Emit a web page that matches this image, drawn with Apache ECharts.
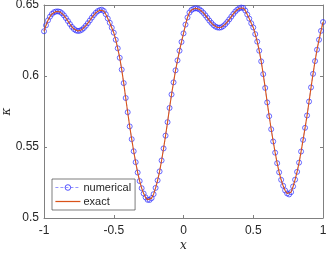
<!DOCTYPE html>
<html>
<head>
<meta charset="utf-8">
<script src="https://cdn.jsdelivr.net/npm/echarts@6/dist/echarts.min.js"></script>
<style>
html,body{margin:0;padding:0;background:#fff;}
#chart{width:327px;height:253px;}
</style>
</head>
<body>
<div id="chart"></div>
<script>
// x grid
const xValues = [
 -1, -0.9857, -0.9714, -0.9571, -0.9429, -0.9286, -0.9143,
 -0.9, -0.8857, -0.8714, -0.8571, -0.8429, -0.8286, -0.8143,
 -0.8, -0.7857, -0.7714, -0.7571, -0.7429, -0.7286, -0.7143,
 -0.7, -0.6857, -0.6714, -0.6571, -0.6429, -0.6286, -0.6143,
 -0.6, -0.5857, -0.5714, -0.5571, -0.5429, -0.5286, -0.5143,
 -0.5, -0.4857, -0.4714, -0.4571, -0.4429, -0.4286, -0.4143,
 -0.4, -0.3857, -0.3714, -0.3571, -0.3429, -0.3286, -0.3143,
 -0.3, -0.2857, -0.2714, -0.2571, -0.2429, -0.2286, -0.2143,
 -0.2, -0.1857, -0.1714, -0.1571, -0.1429, -0.1286, -0.1143,
 -0.1, -0.0857, -0.0714, -0.0571, -0.0429, -0.0286, -0.0143,
 0, 0.0143, 0.0286, 0.0429, 0.0571, 0.0714, 0.0857,
 0.1, 0.1143, 0.1286, 0.1429, 0.1571, 0.1714, 0.1857,
 0.2, 0.2143, 0.2286, 0.2429, 0.2571, 0.2714, 0.2857,
 0.3, 0.3143, 0.3286, 0.3429, 0.3571, 0.3714, 0.3857,
 0.4, 0.4143, 0.4286, 0.4429, 0.4571, 0.4714, 0.4857,
 0.5, 0.5143, 0.5286, 0.5429, 0.5571, 0.5714, 0.5857,
 0.6, 0.6143, 0.6286, 0.6429, 0.6571, 0.6714, 0.6857,
 0.7, 0.7143, 0.7286, 0.7429, 0.7571, 0.7714, 0.7857,
 0.8, 0.8143, 0.8286, 0.8429, 0.8571, 0.8714, 0.8857,
 0.9, 0.9143, 0.9286, 0.9429, 0.9571, 0.9714, 0.9857,
 1
];
// numerical kappa values (markers)
const numerical = [
 0.6315, 0.6357, 0.6392, 0.6418, 0.6437, 0.6449, 0.6454,
 0.6455, 0.6452, 0.6442, 0.6427, 0.6408, 0.6387, 0.6366,
 0.6346, 0.6331, 0.6321, 0.6317, 0.6319, 0.6326, 0.6338,
 0.6354, 0.6372, 0.6391, 0.6411, 0.6429, 0.6445, 0.6457,
 0.6464, 0.6467, 0.6458, 0.6435, 0.6405, 0.6375, 0.6340,
 0.6305, 0.6255, 0.6195, 0.6128, 0.6045, 0.5950, 0.5845,
 0.5745, 0.5645, 0.5555, 0.5470, 0.5393, 0.5320, 0.5260,
 0.5210, 0.5172, 0.5145, 0.5128, 0.5127, 0.5140, 0.5168,
 0.5212, 0.5265, 0.5328, 0.5405, 0.5490, 0.5580, 0.5675,
 0.5775, 0.5870, 0.5955, 0.6040, 0.6110, 0.6178, 0.6240,
 0.6300, 0.6362, 0.6412, 0.6447, 0.6465, 0.6473, 0.6477,
 0.6475, 0.6469, 0.6458, 0.6444, 0.6427, 0.6409, 0.6390,
 0.6374, 0.6359, 0.6348, 0.6342, 0.6340, 0.6343, 0.6352,
 0.6365, 0.6381, 0.6399, 0.6418, 0.6437, 0.6454, 0.6467,
 0.6477, 0.6482, 0.6479, 0.6461, 0.6433, 0.6404, 0.6371,
 0.6342, 0.6295, 0.6242, 0.6178, 0.6103, 0.6013, 0.5916,
 0.5814, 0.5717, 0.5625, 0.5539, 0.5460, 0.5386, 0.5322,
 0.5269, 0.5227, 0.5194, 0.5173, 0.5166, 0.5182, 0.5222,
 0.5270, 0.5325, 0.5390, 0.5468, 0.5550, 0.5635, 0.5722,
 0.5820, 0.5920, 0.6015, 0.6105, 0.6185, 0.6255, 0.6318,
 0.6380
];
// exact kappa values (red curve), coinciding with the numerical ones
const exact = numerical.slice();

const xTicks = [-1, -0.5, 0, 0.5, 1];
const yTicks = [0.5, 0.55, 0.6, 0.65];

const seriesNames = ['numerical', 'exact'];
const axisColor = '#808080';
const textColor = '#262626';
const blue = '#2a2aff';
const red = '#D95319';

const chart = echarts.init(document.getElementById('chart'), null, {renderer: 'canvas'});

function pairs(ys){ return xValues.map((x, i) => [x, ys[i]]); }

const baseX = {
  type: 'value', min: xTicks[0], max: xTicks[xTicks.length-1], interval: 0.5,
  axisLine: {show: true, onZero: false, lineStyle: {color: axisColor, width: 1}},
  axisTick: {show: true, inside: true, length: 3, lineStyle: {color: axisColor}},
  splitLine: {show: false}
};
const baseY = {
  type: 'value', min: yTicks[0], max: yTicks[yTicks.length-1], interval: 0.05,
  axisLine: {show: true, onZero: false, lineStyle: {color: axisColor, width: 1}},
  axisTick: {show: true, inside: true, length: 3, lineStyle: {color: axisColor}},
  splitLine: {show: false}
};

chart.setOption({
  animation: false,
  backgroundColor: '#fff',
  grid: {left: 44, right: 4, top: 5, bottom: 35, containLabel: false, outerBoundsMode: 'none'},
  legend: {
    orient: 'vertical', left: 52, top: 179,
    symbolKeepAspect: true,
    data: [
      {name: seriesNames[0], itemStyle: {color: 'rgba(0,0,255,0)', borderColor: blue, borderWidth: 0.8},
       lineStyle: {color: '#7a7aff', width: 0.8, type: [3, 2]}},
      {name: seriesNames[1], icon: 'path://M0,0 L100,0 L100,5 L0,5 Z',
       itemStyle: {color: red, borderWidth: 0}}
    ],
    backgroundColor: '#fff', borderColor: '#262626', borderWidth: 0.6,
    padding: [3, 4, 3, 3], itemGap: 3, itemWidth: 25, itemHeight: 7,
    textStyle: {fontFamily: 'Liberation Sans, Arial, sans-serif', fontSize: 11, color: textColor, padding: [0,0,0,-2]}
  },
  xAxis: [
    Object.assign({}, baseX, {
      position: 'bottom',
      name: 'x', nameLocation: 'middle', nameGap: 22, nameMoveOverlap: false,
      nameTextStyle: {fontFamily: 'DejaVu Serif, Liberation Serif, serif', fontStyle: 'italic', fontSize: 12, color: textColor},
      axisLabel: {show: true, margin: 7, fontFamily: 'Liberation Sans, Arial, sans-serif', fontSize: 12, color: textColor}
    }),
    Object.assign({}, baseX, {position: 'top', axisLabel: {show: false}})
  ],
  yAxis: [
    Object.assign({}, baseY, {
      position: 'left',
      name: 'κ', nameLocation: 'middle', nameGap: 31, nameRotate: 90, nameMoveOverlap: false,
      nameTextStyle: {fontFamily: 'DejaVu Serif, Liberation Serif, serif', fontStyle: 'italic', fontSize: 12, color: textColor},
      axisLabel: {show: true, margin: 5, fontFamily: 'Liberation Sans, Arial, sans-serif', fontSize: 12, color: textColor}
    }),
    Object.assign({}, baseY, {position: 'right', axisLabel: {show: false}})
  ],
  series: [
    {
      name: seriesNames[0], type: 'line', data: pairs(numerical),
      xAxisIndex: 0, yAxisIndex: 0,
      symbol: 'circle', symbolSize: 5, showSymbol: true,
      itemStyle: {color: 'rgba(0,0,255,0)', borderColor: blue, borderWidth: 0.7},
      lineStyle: {color: '#6a6aff', width: 0.5, type: [3, 2]},
      emphasis: {disabled: true}, z: 2
    },
    {
      name: seriesNames[1], type: 'line', data: pairs(exact),
      xAxisIndex: 0, yAxisIndex: 0,
      symbol: 'none', showSymbol: false,
      itemStyle: {color: red},
      lineStyle: {color: red, width: 1.1},
      emphasis: {disabled: true}, z: 3
    }
  ]
});
</script>
</body>
</html>
